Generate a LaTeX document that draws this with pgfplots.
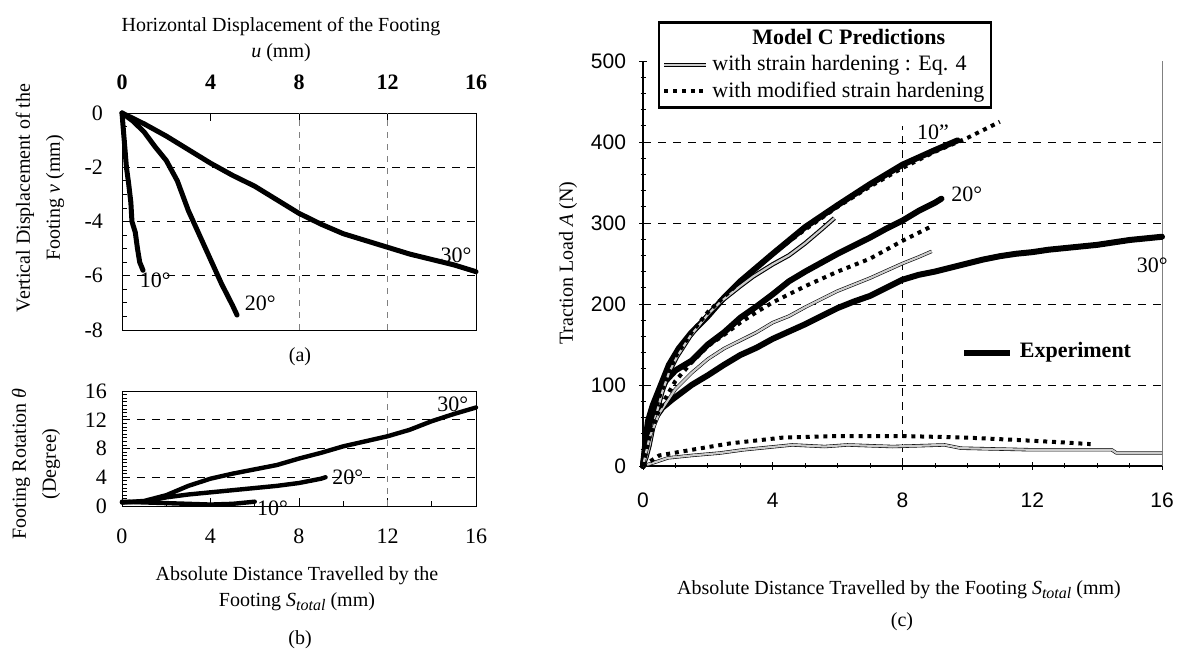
\documentclass[border=0pt]{standalone}
\usepackage{fontspec}
\setmainfont{Liberation Serif}
\setsansfont{Liberation Sans}
\usepackage{pgfplots}
\pgfplotsset{compat=1.18}
\newcommand{\Stot}{\textit{S}\raisebox{-0.45ex}{\footnotesize\textit{total}}}

\begin{document}
\begin{tikzpicture}
\useasboundingbox (0,0) rectangle (592pt,326pt);
\pgfplotsset{
  every axis/.append style={font=\fontsize{11}{13}\selectfont, scale only axis,
    /pgf/number format/assume math mode=true, clip=false,
    major tick length=4pt, minor tick length=2.5pt, tick style={black, thin}},
}
\tikzset{
  expline/.style={black, line width=2.5pt, line join=round, line cap=round},
  predsolid/.style={black, line width=2.2pt, line join=round, postaction={draw, gray!40, line width=1.1pt}},
  preddot/.style={black, line width=2pt, dash pattern=on 2pt off 2.4pt},
  gridd/.style={black, thin, dash pattern=on 4pt off 3.5pt},
}

% ---------------- (a) ----------------
\begin{axis}[at={(61pt,161pt)}, anchor=south west, width=177pt, height=108.5pt,
  xmin=0, xmax=16, ymin=-8, ymax=0,
  xtick={0,4,...,16}, ytick={-8,-6,...,0},
  xtick pos=right, xticklabel pos=right, ytick pos=left,
  minor y tick num=3,
  xticklabel style={yshift=8pt, font=\bfseries\fontsize{11}{13}\selectfont},
  yticklabel style={xshift=-6pt},
  axis line style={black, thin}]
\draw[gridd] (axis cs:0,-2) -- (axis cs:16,-2);
\draw[gridd] (axis cs:0,-4) -- (axis cs:16,-4);
\draw[gridd] (axis cs:0,-6) -- (axis cs:16,-6);
\draw[gray, thin, dash pattern=on 3pt off 3pt] (axis cs:8,-8) -- (axis cs:8,0);
\draw[gray, thin, dash pattern=on 3pt off 3pt] (axis cs:12,-8) -- (axis cs:12,0);
% 30 deg
\addplot[expline] coordinates {(0,0) (1,-0.4) (2,-0.85) (3,-1.35) (4,-1.85) (5,-2.3) (6,-2.7) (7,-3.2) (8,-3.7) (9,-4.1) (10,-4.45) (11,-4.7) (12,-4.95) (13,-5.2) (14,-5.4) (15,-5.6) (16,-5.85)};
% 20 deg
\addplot[expline] coordinates {(0,0) (0.5,-0.3) (1,-0.7) (1.5,-1.25) (2,-1.75) (2.5,-2.5) (3,-3.6) (3.5,-4.5) (4,-5.4) (4.5,-6.3) (5,-7.1) (5.2,-7.45)};
% 10 deg
\addplot[expline] coordinates {(0,0) (0.05,-0.5) (0.1,-1) (0.15,-1.5) (0.2,-2) (0.3,-2.6) (0.4,-3.3) (0.45,-4) (0.6,-4.4) (0.7,-5) (0.8,-5.5) (0.95,-5.8)};
\node at (axis cs:15.1,-5.25) {30°};
\node at (axis cs:1.5,-6.15) {10°};
\node at (axis cs:6.25,-7.0) {20°};
\end{axis}

% ---------------- (b) ----------------
\begin{axis}[at={(61pt,73pt)}, anchor=south west, width=177pt, height=57.5pt,
  xmin=0, xmax=16, ymin=0, ymax=16,
  xtick={0,4,...,16}, ytick={0,4,...,16},
  xtick pos=left, ytick pos=left,
  minor y tick num=7, minor x tick num=1,
  xticklabel style={yshift=-8pt}, yticklabel style={xshift=-4pt},
  axis line style={black, thin}]
\draw[gridd] (axis cs:0,4) -- (axis cs:16,4);
\draw[gridd] (axis cs:0,8) -- (axis cs:16,8);
\draw[gridd] (axis cs:0,12) -- (axis cs:16,12);
\draw[gray, thin, dash pattern=on 3pt off 3pt] (axis cs:12,0) -- (axis cs:12,16);
% 30 deg
\addplot[expline, line width=2.2pt] coordinates {(0,0.5) (1,0.7) (2,1.5) (3,2.8) (4,3.8) (5,4.5) (6,5.1) (7,5.7) (8,6.6) (9,7.4) (10,8.3) (11,9) (12,9.7) (13,10.6) (14,11.8) (15,12.8) (16,13.7)};
% 20 deg
\addplot[expline, line width=2.2pt] coordinates {(0,0.5) (1,0.6) (2,1.2) (3,1.6) (4,1.9) (5,2.2) (6,2.5) (7,2.8) (8,3.2) (9,3.8) (9.2,4.0)};
% 10 deg
\addplot[expline, line width=2.2pt] coordinates {(0,0.6) (1,0.5) (2,0.4) (3,0.3) (4,0.2) (5,0.3) (6,0.6)};
\node at (axis cs:14.95,14.1) {30°};
\node at (axis cs:10.2,4.0) {20°};
\node at (axis cs:6.8,-0.3) {10°};
\end{axis}

% ---------------- (c) ----------------
\begin{axis}[at={(321.5pt,93pt)}, anchor=south west, width=259.5pt, height=202.5pt,
  xmin=0, xmax=16, ymin=0, ymax=500,
  xtick={0,4,...,16}, ytick={0,100,...,500},
  axis x line*=bottom, axis y line*=left,
  minor y tick num=4, minor x tick num=3,
  tick align=center,
  ticklabel style={font=\sffamily\fontsize{10.5}{12}\selectfont},
  xticklabel style={yshift=-8pt}, yticklabel style={xshift=-3pt},
  axis line style={black, thick},
  legend style={at={(axis cs:0.46,549)}, anchor=north west, draw=black, line width=1.1pt,
    font=\fontsize{11}{13}\selectfont, inner sep=1.5pt, row sep=0pt,
    cells={anchor=west}},
  legend image code/.code={\draw[#1] (0pt,0pt) -- (21pt,0pt);}]
\addlegendimage{empty legend}
\addlegendentry{\hspace*{20pt}\textbf{Model C Predictions}}
\addlegendimage{predsolid}
\addlegendentry{with strain hardening : Eq. 4}
\addlegendimage{preddot}
\addlegendentry{with modified strain hardening}

\draw[gridd] (axis cs:0,100) -- (axis cs:16,100);
\draw[gridd] (axis cs:0,200) -- (axis cs:16,200);
\draw[gridd] (axis cs:0,300) -- (axis cs:16,300);
\draw[gridd] (axis cs:0,400) -- (axis cs:16,400);
\draw[black, thin, dash pattern=on 4pt off 3pt] (axis cs:8,0) -- (axis cs:8,420);
\draw[gray, thin] (axis cs:16,0) -- (axis cs:16,500);

% experiments
\addplot[expline, line width=3pt, forget plot] coordinates {(0,0) (0.05,20) (0.15,55) (0.3,75) (0.45,90) (0.6,105) (0.8,125) (1.1,145) (1.5,165) (2,185) (2.5,208) (3,228) (3.5,245) (4,262) (5,295) (6,322) (7,348) (8,372) (9,390) (9.7,402)};
\addplot[expline, line width=3pt, forget plot] coordinates {(0,0) (0.1,30) (0.25,60) (0.45,85) (0.7,105) (1,118) (1.5,130) (2,150) (2.5,165) (3,183) (3.5,197) (4,212) (4.5,228) (5,240) (5.5,251) (6,262) (6.5,272) (7,282) (7.5,293) (8,303) (8.5,315) (9,325) (9.2,330)};
\addplot[expline, line width=3pt, forget plot] coordinates {(0,0) (0.1,25) (0.3,55) (0.6,72) (0.9,82) (1.5,100) (2,112) (2.5,125) (3,137) (3.5,146) (4,157) (4.5,166) (5,175) (5.5,185) (6,195) (6.5,203) (7,210) (7.5,220) (8,230) (8.5,236) (9,240) (9.5,245) (10,250) (10.5,255) (11,259) (11.5,262) (12,264) (12.5,267) (13,269) (13.5,271) (14,273) (14.5,276) (15,279) (15.5,281) (16,283)};

% predictions, strain hardening (Eq. 4)
\addplot[predsolid, forget plot] coordinates {(0,0) (0.1,10) (0.2,25) (0.35,55) (0.6,92) (0.8,115) (1.05,135) (1.45,160) (2,187) (2.4,203) (3,222) (3.4,234) (4,249) (4.5,260) (5,275) (5.5,292) (5.9,306)};
\addplot[predsolid, line width=1.7pt, forget plot] coordinates {(0,0) (0.2,35) (0.5,65) (1,95) (1.5,115) (2,132) (2.5,145) (3,155) (3.5,165) (4,177) (4.5,185) (5,196) (5.5,206) (6,216) (6.5,224) (7,232) (7.5,241) (8,250) (8.5,258) (8.9,265)};
\addplot[predsolid, line width=1.7pt, forget plot] coordinates {(0,0) (0.4,5) (0.77,10) (1.5,13) (2.37,16) (3.1,20) (4.6,26) (5.6,24) (6.3,26) (7.7,24) (9.3,26) (9.8,22) (12,20) (14.45,20) (14.6,16) (16,16)};

% predictions, modified strain hardening
\addplot[preddot, forget plot] coordinates {(0,0) (0.2,40) (0.5,85) (1,135) (1.5,165) (2,190) (3,228) (4,262) (5,292) (6,320) (7,345) (8,368) (9,388) (10,405) (11,425)};
\addplot[preddot, forget plot] coordinates {(0,0) (0.2,35) (0.5,70) (1,105) (1.5,128) (2,148) (2.5,162) (3,177) (3.5,190) (4,202) (4.5,212) (5,222) (5.5,231) (6,240) (6.5,248) (7,256) (7.5,267) (8,278) (8.5,288) (8.9,296)};
\addplot[preddot, forget plot] coordinates {(0,0) (0.5,13) (1.5,20) (2.7,28) (4.3,35) (6,37) (8,37) (10,35) (11.6,32) (13,29) (13.8,27)};

\node at (axis cs:8.94,412) {10\symbol{34}};
\node at (axis cs:9.98,335) {20°};
\node at (axis cs:15.7,248) {30°};
\draw[black, line width=3pt] (axis cs:9.9,140) -- (axis cs:11.3,140);
\node[anchor=west, font=\bfseries\fontsize{11}{13}\selectfont] at (axis cs:11.4,140) {Experiment};
\end{axis}

% ---------------- labels ----------------
\node[align=center] at (140.5pt,306pt) {Horizontal Displacement of the Footing\\[1pt] \textit{u} (mm)};
\node[rotate=90, align=center] at (20pt,227pt) {Vertical Displacement of the\\[3pt] Footing \textit{v} (mm)};
\node at (150pt,147.5pt) {(a)};
\node[rotate=90, align=center] at (18pt,94pt) {Footing Rotation \textit{θ}\\[3pt] (Degree)};
\node[align=center] at (148.5pt,31.5pt) {Absolute Distance Travelled by the\\[1pt] Footing \Stot{} (mm)};
\node at (150pt,6pt) {(b)};
\node[rotate=90] at (284pt,194.5pt) {Traction Load \textit{A} (N)};
\node at (449.5pt,31pt) {Absolute Distance Travelled by the Footing \Stot{} (mm)};
\node at (451pt,15pt) {(c)};
\end{tikzpicture}
\end{document}
